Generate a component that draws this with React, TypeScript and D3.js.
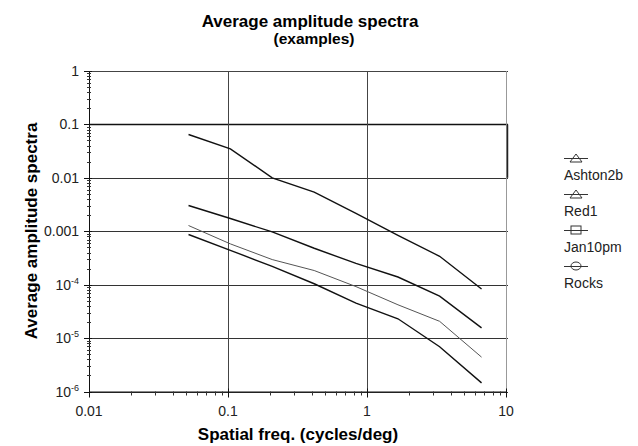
import React, { useEffect, useRef } from "react";
import * as d3 from "d3";

const freqs = [0.052, 0.104, 0.208, 0.417, 0.833, 1.67, 3.33, 6.67];
const seriesNames = ["Ashton2b", "Red1", "Jan10pm", "Rocks"];
const ashton2b = [0.0647, 0.0349, 0.01, 0.0054, 0.00216, 0.00084, 0.00034, 0.000083];
const red1 = [0.00303, 0.00173, 0.00097, 0.00048, 0.00025, 0.000139, 0.000061, 0.0000155];
const jan10pm = [0.00128, 0.00058, 0.000295, 0.000184, 0.000092, 0.000042, 0.0000206, 0.0000044];
const rocks = [0.00087, 0.00044, 0.00022, 0.000104, 0.000045, 0.000023, 0.0000069, 0.00000145];
const seriesValues = [ashton2b, red1, jan10pm, rocks];
const seriesColors = ["#111", "#111", "#555", "#111"];
const seriesWidths = [1.4, 1.4, 1, 1.4];
const markers = ["triangle", "triangle", "square", "circle"];
const xTicks = [0.01, 0.1, 1, 10];
const xTickLabels = ["0.01", "0.1", "1", "10"];
const yTicks = [1, 0.1, 0.01, 0.001, 1e-4, 1e-5, 1e-6];
const yTickLabels = ["1", "0.1", "0.01", "0.001", "10|-4", "10|-5", "10|-6"];

const W = 638;
const H = 446;
const left = 89;
const right = 506;
const top = 71;
const bottom = 391.5;
const font = "Liberation Sans, Arial, sans-serif";

export default function App() {
  const svgRef = useRef<SVGSVGElement>(null);

  useEffect(() => {
    const svg = d3.select(svgRef.current);
    svg.selectAll("*").remove();

    const x = d3.scaleLog().domain([0.01, 10]).range([left, right]);
    const y = d3.scaleLog().domain([1e-6, 1]).range([bottom, top]);

    svg.append("rect").attr("width", W).attr("height", H).attr("fill", "#fff");

    // titles
    svg.append("text").attr("x", 310).attr("y", 27).attr("text-anchor", "middle")
      .style("font-family", font).style("font-size", "17px").style("font-weight", "bold")
      .text("Average amplitude spectra");
    svg.append("text").attr("x", 314).attr("y", 44).attr("text-anchor", "middle")
      .style("font-family", font).style("font-size", "15.5px").style("font-weight", "bold")
      .text("(examples)");

    const g = svg.append("g");

    // horizontal grid
    yTicks.forEach((t) => {
      g.append("line").attr("x1", left).attr("x2", right + 2)
        .attr("y1", Math.round(y(t)) + 0.5).attr("y2", Math.round(y(t)) + 0.5)
        .attr("stroke", t === 0.1 ? "#111" : "#333").attr("stroke-width", t === 0.1 ? 1.5 : 1);
    });
    // vertical grid
    [0.1, 1].forEach((t) => {
      g.append("line").attr("x1", Math.round(x(t)) + 0.5).attr("x2", Math.round(x(t)) + 0.5)
        .attr("y1", top).attr("y2", bottom).attr("stroke", "#444").attr("stroke-width", 1);
    });
    // frame
    g.append("line").attr("x1", right + 0.5).attr("x2", right + 0.5).attr("y1", top).attr("y2", bottom)
      .attr("stroke", "#999");
    g.append("line").attr("x1", right + 1.5).attr("x2", right + 1.5).attr("y1", y(0.1)).attr("y2", y(0.01))
      .attr("stroke", "#222").attr("stroke-width", 1.5);
    g.append("line").attr("x1", left).attr("x2", right).attr("y1", top + 0.5).attr("y2", top + 0.5)
      .attr("stroke", "#444");
    g.append("line").attr("x1", left + 0.5).attr("x2", left + 0.5).attr("y1", top).attr("y2", bottom)
      .attr("stroke", "#111");
    g.append("line").attr("x1", left).attr("x2", right).attr("y1", bottom + 0.5).attr("y2", bottom + 0.5)
      .attr("stroke", "#111");

    // y ticks (major + minor)
    for (let e = -6; e <= 0; e++) {
      const v = Math.pow(10, e);
      g.append("line").attr("x1", left - 5).attr("x2", left + 3)
        .attr("y1", Math.round(y(v)) + 0.5).attr("y2", Math.round(y(v)) + 0.5).attr("stroke", "#111");
      if (e < 0) {
        for (let k = 2; k <= 9; k++) {
          const yy = Math.round(y(v * k)) + 0.5;
          g.append("line").attr("x1", left - 2).attr("x2", left + 2).attr("y1", yy).attr("y2", yy)
            .attr("stroke", "#333");
        }
      }
    }
    // x ticks
    for (let e = -2; e <= 1; e++) {
      const v = Math.pow(10, e);
      const xx = Math.round(x(v)) + 0.5;
      g.append("line").attr("x1", xx).attr("x2", xx).attr("y1", bottom - 3).attr("y2", bottom + 6)
        .attr("stroke", "#111");
      if (e < 1) {
        for (let k = 2; k <= 9; k++) {
          const xm = Math.round(x(v * k)) + 0.5;
          g.append("line").attr("x1", xm).attr("x2", xm).attr("y1", bottom).attr("y2", bottom + 4)
            .attr("stroke", "#333");
        }
      }
    }

    // tick labels
    xTicks.forEach((t, i) => {
      g.append("text").attr("x", x(t)).attr("y", bottom + 24).attr("text-anchor", "middle")
        .style("font-family", font).style("font-size", "14px").attr("fill", "#222")
        .text(xTickLabels[i]);
    });
    yTicks.forEach((t, i) => {
      const lab = yTickLabels[i];
      const txt = g.append("text").attr("x", left - 10).attr("y", y(t) + 5).attr("text-anchor", "end")
        .style("font-family", font).style("font-size", "14px").attr("fill", "#222");
      if (lab.includes("|")) {
        const [base, exp] = lab.split("|");
        txt.append("tspan").text(base);
        txt.append("tspan").attr("dy", -6).style("font-size", "9px").text(exp);
      } else {
        txt.text(lab);
      }
    });

    // axis titles
    svg.append("text").attr("x", 298).attr("y", 440).attr("text-anchor", "middle")
      .style("font-family", font).style("font-size", "17px").style("font-weight", "bold")
      .text("Spatial freq. (cycles/deg)");
    svg.append("text").attr("transform", "translate(37,231) rotate(-90)").attr("text-anchor", "middle")
      .style("font-family", font).style("font-size", "17px").style("font-weight", "bold")
      .text("Average amplitude spectra");

    // series lines
    const line = d3.line<[number, number]>().x((d) => x(d[0])).y((d) => y(d[1]));
    seriesValues.forEach((vals, i) => {
      const pts = freqs.map((f, j) => [f, vals[j]] as [number, number]);
      g.append("path").attr("d", line(pts)).attr("fill", "none")
        .attr("stroke", seriesColors[i]).attr("stroke-width", seriesWidths[i]);
    });

    // legend
    const lg = svg.append("g");
    seriesNames.forEach((name, i) => {
      const my = 158 + i * 36;
      lg.append("line").attr("x1", 564).attr("x2", 588).attr("y1", my + 0.5).attr("y2", my + 0.5)
        .attr("stroke", "#333");
      const m = markers[i];
      if (m === "triangle") {
        lg.append("path").attr("d", `M570,${my + 4} L576,${my - 4} L582,${my + 4} Z`)
          .attr("fill", "none").attr("stroke", "#333");
      } else if (m === "square") {
        lg.append("rect").attr("x", 571).attr("y", my - 4).attr("width", 10).attr("height", 8)
          .attr("fill", "none").attr("stroke", "#333");
      } else {
        lg.append("ellipse").attr("cx", 576).attr("cy", my).attr("rx", 5).attr("ry", 4)
          .attr("fill", "none").attr("stroke", "#333");
      }
      lg.append("text").attr("x", 564).attr("y", my + 22)
        .style("font-family", font).style("font-size", "14px").attr("fill", "#222")
        .text(name);
    });
  }, []);

  return (
    <div style={{ position: "fixed", left: 0, top: 0, width: W, height: H, background: "#fff" }}>
      <svg ref={svgRef} width={W} height={H} />
    </div>
  );
}
